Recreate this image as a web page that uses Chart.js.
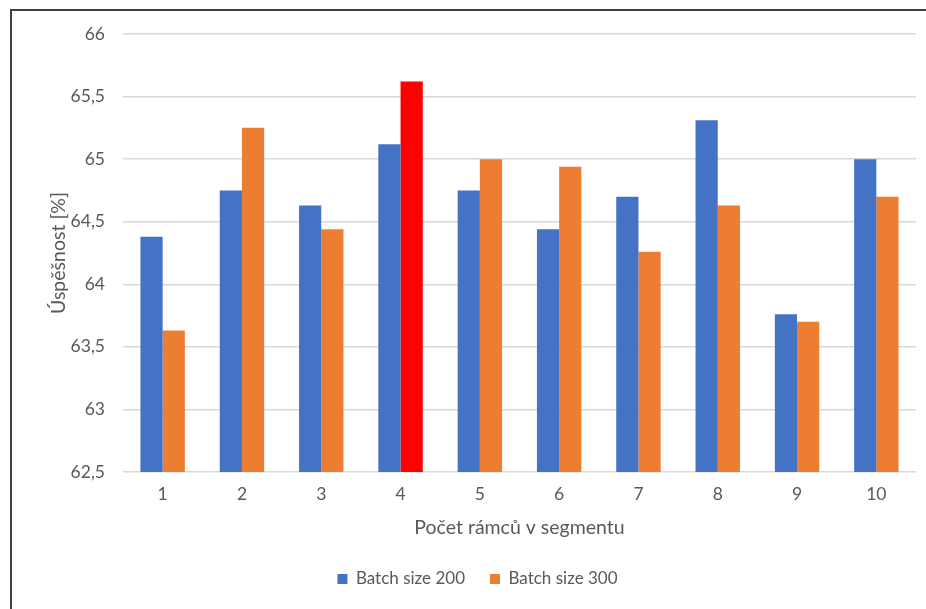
<!DOCTYPE html>
<html>
<head>
<meta charset="utf-8">
<script src="https://cdn.jsdelivr.net/npm/chart.js@4.4.1/dist/chart.umd.min.js"></script>
<style>
  html, body { margin: 0; padding: 0; background: #fff; overflow: hidden; width: 926px; height: 609px; }
  #frame { position: absolute; left: 10px; top: 9px; width: 940px; height: 620px;
           border-left: 2px solid #404040; border-top: 2px solid #404040; }
  #wrap { position: absolute; left: 12px; top: 11px; width: 914px; height: 598px; }
</style>
</head>
<body>
<div id="frame"></div>
<div id="wrap"><canvas id="c"></canvas></div>
<script>
// Success rate by number of frames per segment, for two batch sizes
const categories = ['1', '2', '3', '4', '5', '6', '7', '8', '9', '10'];
const batch200 = [64.38, 64.75, 64.63, 65.12, 64.75, 64.44, 64.70, 65.31, 63.76, 65.00];
const batch300 = [63.63, 65.25, 64.44, 65.62, 65.00, 64.94, 64.26, 64.63, 63.70, 64.70];
const seriesLabels = ['Batch size 200', 'Batch size 300'];
const xTitle = 'Počet rámců v segmentu';
const yTitle = 'Úspěšnost [%]';
const yMin = 62.5, yMax = 66, yStep = 0.5;
const bestIndex = 3; // best result, highlighted in red

const BLUE = '#4472C4', ORANGE = '#ED7D31', RED = '#FF0000';
const TEXT = '#595959', GRID = '#D9D9D9';
const FONT = 'Lato, "Open Sans", sans-serif';

const orangeColors = batch300.map((_, i) => i === bestIndex ? RED : ORANGE);

new Chart(document.getElementById('c'), {
  type: 'bar',
  data: {
    labels: categories,
    datasets: [
      { label: seriesLabels[0], data: batch200, backgroundColor: BLUE, borderWidth: 0 },
      { label: seriesLabels[1], data: batch300, backgroundColor: orangeColors, borderWidth: 0 }
    ]
  },
  options: {
    responsive: true,
    maintainAspectRatio: false,
    animation: false,
    devicePixelRatio: 1,
    datasets: { bar: { categoryPercentage: 0.56, barPercentage: 1.0 } },
    layout: { padding: { left: 27, right: 10, top: 23, bottom: 11.5 } },
    plugins: {
      legend: {
        position: 'bottom',
        labels: {
          boxWidth: 10, boxHeight: 10, padding: 25,
          color: TEXT, font: { family: FONT, size: 17 },
          generateLabels: (chart) => chart.data.datasets.map((ds, i) => ({
            text: ds.label,
            fillStyle: i === 0 ? BLUE : ORANGE,
            strokeStyle: i === 0 ? BLUE : ORANGE,
            lineWidth: 0,
            hidden: false,
            datasetIndex: i,
            fontColor: TEXT
          }))
        }
      },
      tooltip: { enabled: false }
    },
    scales: {
      x: {
        grid: { display: false, drawTicks: false, tickLength: 0 },
        border: { display: false },
        ticks: { color: TEXT, font: { family: FONT, size: 17.5 }, padding: 12, maxRotation: 0 },
        title: { display: true, text: xTitle, color: TEXT, font: { family: FONT, size: 19.5 },
                 padding: { top: 0, bottom: 6 } },
        afterFit: (s) => { s.height = 73.5; }
      },
      y: {
        min: yMin, max: yMax,
        // invisible tick marks keep the labels clear of the plot
        grid: { color: GRID, lineWidth: 1.5, drawTicks: true, tickLength: 18, tickColor: 'rgba(0,0,0,0)' },
        border: { display: false },
        ticks: {
          stepSize: yStep, color: TEXT, padding: 0,
          font: { family: FONT, size: 17.5 },
          callback: (v) => String(Math.round(v * 10) / 10).replace('.', ',')
        },
        title: { display: true, text: yTitle, color: TEXT, font: { family: FONT, size: 19.5 },
                 padding: { top: 8, bottom: 0 } },
        afterFit: (s) => { s.width = 84; }
      }
    }
  }
});
</script>
</body>
</html>
